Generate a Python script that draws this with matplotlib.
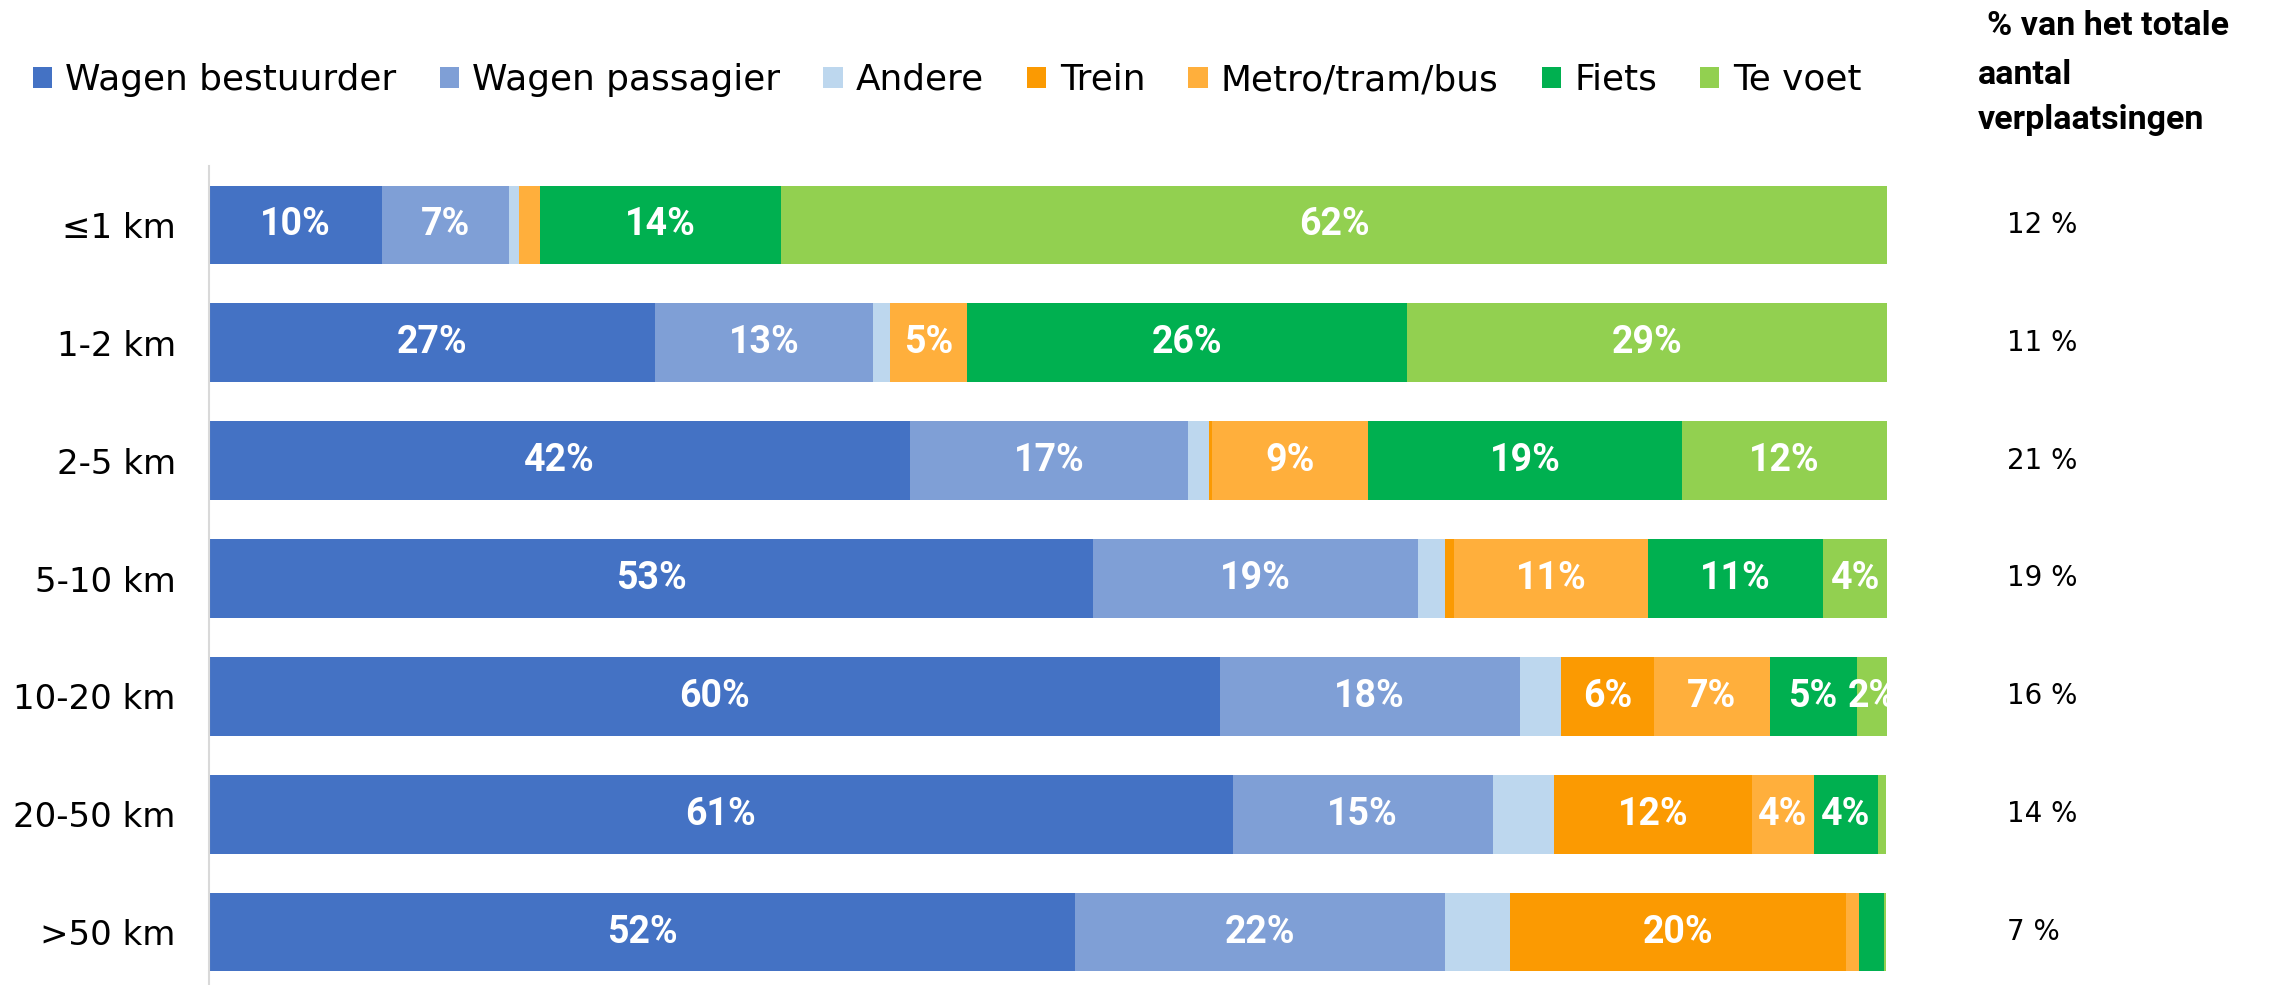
import numpy as np
import matplotlib
matplotlib.use("Agg")
import matplotlib.pyplot as plt
from matplotlib.patches import Patch
import matplotlib.transforms as mtransforms

categories = ['≤1 km', '1-2 km', '2-5 km', '5-10 km', '10-20 km', '20-50 km', '>50 km']
series_names = ['Wagen bestuurder', 'Wagen passagier', 'Andere', 'Trein',
                'Metro/tram/bus', 'Fiets', 'Te voet']

# share of each bar (percent of bar length)
wagen_bestuurder = [10.3, 26.6, 41.8, 52.7, 60.25, 61.0, 51.6]
wagen_passagier = [7.6, 13.0, 16.55, 19.35, 17.85, 15.5, 22.05]
andere = [0.6, 1.0, 1.25, 1.6, 2.5, 3.65, 3.9]
trein = [0.0, 0.0, 0.2, 0.55, 5.5, 11.8, 20.0]
metro_tram_bus = [1.2, 4.6, 9.3, 11.55, 6.9, 3.7, 0.8]
fiets = [14.4, 26.2, 18.7, 10.45, 5.2, 3.8, 1.5]
te_voet = [65.9, 28.6, 12.2, 3.8, 1.8, 0.5, 0.1]

# data label texts as printed in the chart
lbl_bestuurder = ['10%', '27%', '42%', '53%', '60%', '61%', '52%']
lbl_passagier = ['7%', '13%', '17%', '19%', '18%', '15%', '22%']
lbl_andere = ['', '', '', '', '', '', '']
lbl_trein = ['', '', '', '', '6%', '12%', '20%']
lbl_metro = ['', '5%', '9%', '11%', '7%', '4%', '']
lbl_fiets = ['14%', '26%', '19%', '11%', '5%', '4%', '']
lbl_te_voet = ['62%', '29%', '12%', '4%', '2%', '', '']

# share of total number of trips
share_total = [12, 11, 21, 19, 16, 14, 7]

colors = ['#4472C4', '#7F9FD6', '#BDD7EE', '#FB9A02', '#FFAF3C', '#00B050', '#92D050']

series = [wagen_bestuurder, wagen_passagier, andere, trein, metro_tram_bus, fiets, te_voet]
labels = [lbl_bestuurder, lbl_passagier, lbl_andere, lbl_trein, lbl_metro, lbl_fiets, lbl_te_voet]

W, H = 2269, 985
fig = plt.figure(figsize=(W / 100, H / 100), dpi=100)
ax_left, ax_right = 209, 1887
ax_top, ax_bottom = 166, 991
ax = fig.add_axes([ax_left / W, (H - ax_bottom) / H, (ax_right - ax_left) / W, (ax_bottom - ax_top) / H])

y = np.arange(len(categories))
left = np.zeros(len(categories))
label_font = ['Roboto', 'DejaVu Sans']
for vals, lbls, col, name in zip(series, labels, colors, series_names):
    vals = np.array(vals, dtype=float)
    ax.barh(y, vals, left=left, height=0.667, color=col, label=name,
            edgecolor='none', linewidth=0)
    for yi, (l, v, t) in enumerate(zip(left, vals, lbls)):
        if t:
            ax.text(l + v / 2, yi, t, ha='center', va='center', color='white',
                    fontsize=27, fontweight='bold', family=label_font, clip_on=True)
    left += vals

ax.set_xlim(0, 100)
ax.set_ylim(len(categories) - 0.5, -0.5)
ax.set_yticks(y)
ax.set_yticklabels(categories, fontsize=24.5, family=['DejaVu Sans'])
ax.tick_params(axis='y', length=0, pad=24)
ax.set_xticks([])
for s in ['top', 'right', 'bottom']:
    ax.spines[s].set_visible(False)
ax.spines['left'].set_color('#D9D9D9')
ax.spines['left'].set_linewidth(1.5)

# legend
handles = [Patch(facecolor=c, edgecolor='none') for c in colors]
fig.legend(handles, series_names, loc='center', bbox_to_anchor=(947 / W, 1 - 80 / H),
           ncol=7, frameon=False, handlelength=0.54, handleheight=0.54,
           handletextpad=0.37, columnspacing=1.2, borderpad=0, borderaxespad=0,
           prop={'family': 'DejaVu Sans', 'size': 25.8})

# right column header
hdr_font = ['Roboto', 'DejaVu Sans']
fig.text(1987 / W, 1 - 26 / H, '% van het totale', ha='left', va='center',
         fontsize=24.5, fontweight='bold', family=hdr_font)
fig.text(1978 / W, 1 - 75 / H, 'aantal', ha='left', va='center',
         fontsize=24.5, fontweight='bold', family=hdr_font)
fig.text(1978 / W, 1 - 120 / H, 'verplaatsingen', ha='left', va='center',
         fontsize=24.5, fontweight='bold', family=hdr_font)

trans = mtransforms.blended_transform_factory(fig.transFigure, ax.transData)
for yi, v in enumerate(share_total):
    ax.text(2007 / W, yi, f'{v} %', transform=trans, ha='left', va='center',
            fontsize=20, family='DejaVu Sans', color='black', clip_on=False)

fig.savefig('out.png', dpi=100, facecolor='white')
